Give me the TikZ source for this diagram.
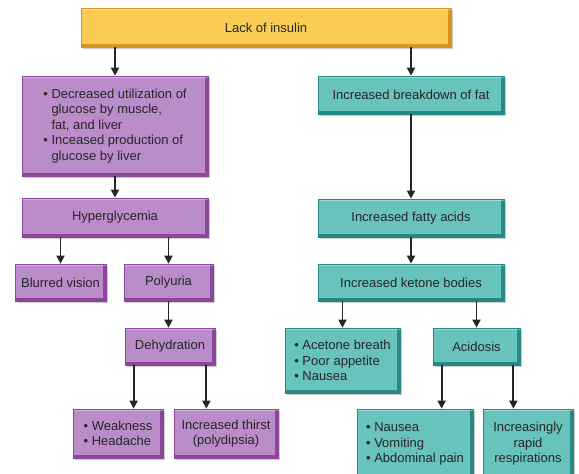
\documentclass[tikz,border=0pt]{standalone}
\usepackage{fontspec}
\setmainfont{Liberation Sans}
\usetikzlibrary{arrows.meta,shadows}

\definecolor{insulinfill}{RGB}{251,204,84}
\definecolor{insulinedge}{RGB}{214,150,34}
\definecolor{sugarfill}{RGB}{186,140,202}
\definecolor{sugaredge}{RGB}{140,70,156}
\definecolor{ketonefill}{RGB}{104,195,188}
\definecolor{ketoneedge}{RGB}{38,138,132}

\begin{document}
\begin{tikzpicture}[x=1pt,y=-1pt,
  every node/.style={font=\fontsize{13}{15.5}\selectfont,text=black!85,inner sep=0pt,align=center},
  flowbox/.style 2 args={fill=#1,draw=#2,line width=0.7pt,
    drop shadow={shadow xshift=2pt,shadow yshift=-2pt,opacity=0.2,fill=black},
    path picture={
      \fill[#2] (path picture bounding box.south west) rectangle ([yshift=3pt]path picture bounding box.south east);
      \fill[#2] ([xshift=-3pt]path picture bounding box.south east) rectangle (path picture bounding box.north east);
      \fill[white,opacity=.35] (path picture bounding box.north west) rectangle ([yshift=-2pt]path picture bounding box.north east);
    }},
  insulinbox/.style={flowbox={insulinfill}{insulinedge}},
  sugarbox/.style={flowbox={sugarfill}{sugaredge}},
  ketonebox/.style={flowbox={ketonefill}{ketoneedge}},
  flowarrow/.style={-{Triangle[length=8pt,width=8pt]},line width=1.8pt,black!85}]
\useasboundingbox (0,0) rectangle (579,474);
% top
\node[insulinbox,minimum width=370,minimum height=39] (insulin) at (266,27.5) {Lack of insulin};
% glucose side
\node[sugarbox,minimum width=186,minimum height=100,align=left] (glucose) at (115,126)
  {\textbullet\ Decreased utilization of\\\phantom{\textbullet\ }glucose by muscle,\\\phantom{\textbullet\ }fat, and liver\\\textbullet\ Inceased production of\\\phantom{\textbullet\ }glucose by liver};
\node[sugarbox,minimum width=186,minimum height=39] (hyper) at (115,217.5) {Hyperglycemia};
\node[sugarbox,minimum width=91,minimum height=37] (blurred) at (60.5,282.5) {Blurred vision};
\node[sugarbox,minimum width=89,minimum height=37] (polyuria) at (168.5,282.5) {Polyuria};
\node[sugarbox,minimum width=90,minimum height=37] (dehyd) at (170,346.5) {Dehydration};
\node[sugarbox,minimum width=90,minimum height=49,align=left] (weak) at (118,433.5)
  {\textbullet\ Weakness\\\textbullet\ Headache};
\node[sugarbox,minimum width=104,minimum height=49] (thirst) at (226,433.5)
  {Increased thirst\\(polydipsia)};
% fat side
\node[ketonebox,minimum width=186,minimum height=38] (fat) at (411,95) {Increased breakdown of fat};
\node[ketonebox,minimum width=186,minimum height=38] (fatty) at (411,218) {Increased fatty acids};
\node[ketonebox,minimum width=186,minimum height=37] (ketone) at (411,282.5) {Increased ketone bodies};
\node[ketonebox,minimum width=115,minimum height=65,align=left] (acetone) at (342.5,360.5)
  {\textbullet\ Acetone breath\\\textbullet\ Poor appetite\\\textbullet\ Nausea};
\node[ketonebox,minimum width=87,minimum height=37] (acidosis) at (476.5,346.5) {Acidosis};
\node[ketonebox,minimum width=116,minimum height=70,align=left] (nausea) at (415,444)
  {\textbullet\ Nausea\\\textbullet\ Vomiting\\\textbullet\ Abdominal pain};
\node[ketonebox,minimum width=90,minimum height=70] (rapid) at (528,444)
  {Increasingly\\rapid\\respirations};
% arrows
\draw[flowarrow] (insulin.south -| glucose.north) -- (glucose.north);
\draw[flowarrow] (insulin.south -| fat.north) -- (fat.north);
\draw[flowarrow] (glucose) -- (hyper);
\draw[flowarrow] (hyper.south -| blurred.north) -- (blurred.north);
\draw[flowarrow] (hyper.south -| polyuria.north) -- (polyuria.north);
\draw[flowarrow] (polyuria) -- (polyuria.south |- dehyd.north);
\draw[flowarrow] ([xshift=9pt]dehyd.south west) -- ([xshift=9pt]dehyd.south west |- weak.north);
\draw[flowarrow] ([xshift=-9pt]dehyd.south east) -- ([xshift=-9pt]dehyd.south east |- thirst.north);
\draw[flowarrow] (fat) -- (fatty);
\draw[flowarrow] (fatty) -- (ketone);
\draw[flowarrow] (ketone.south -| acetone.north) -- (acetone.north);
\draw[flowarrow] (ketone.south -| acidosis.north) -- (acidosis.north);
\draw[flowarrow] ([xshift=9pt]acidosis.south west) -- ([xshift=9pt]acidosis.south west |- nausea.north);
\draw[flowarrow] ([xshift=-7pt]acidosis.south east) -- ([xshift=-7pt]acidosis.south east |- rapid.north);
\end{tikzpicture}
\end{document}
